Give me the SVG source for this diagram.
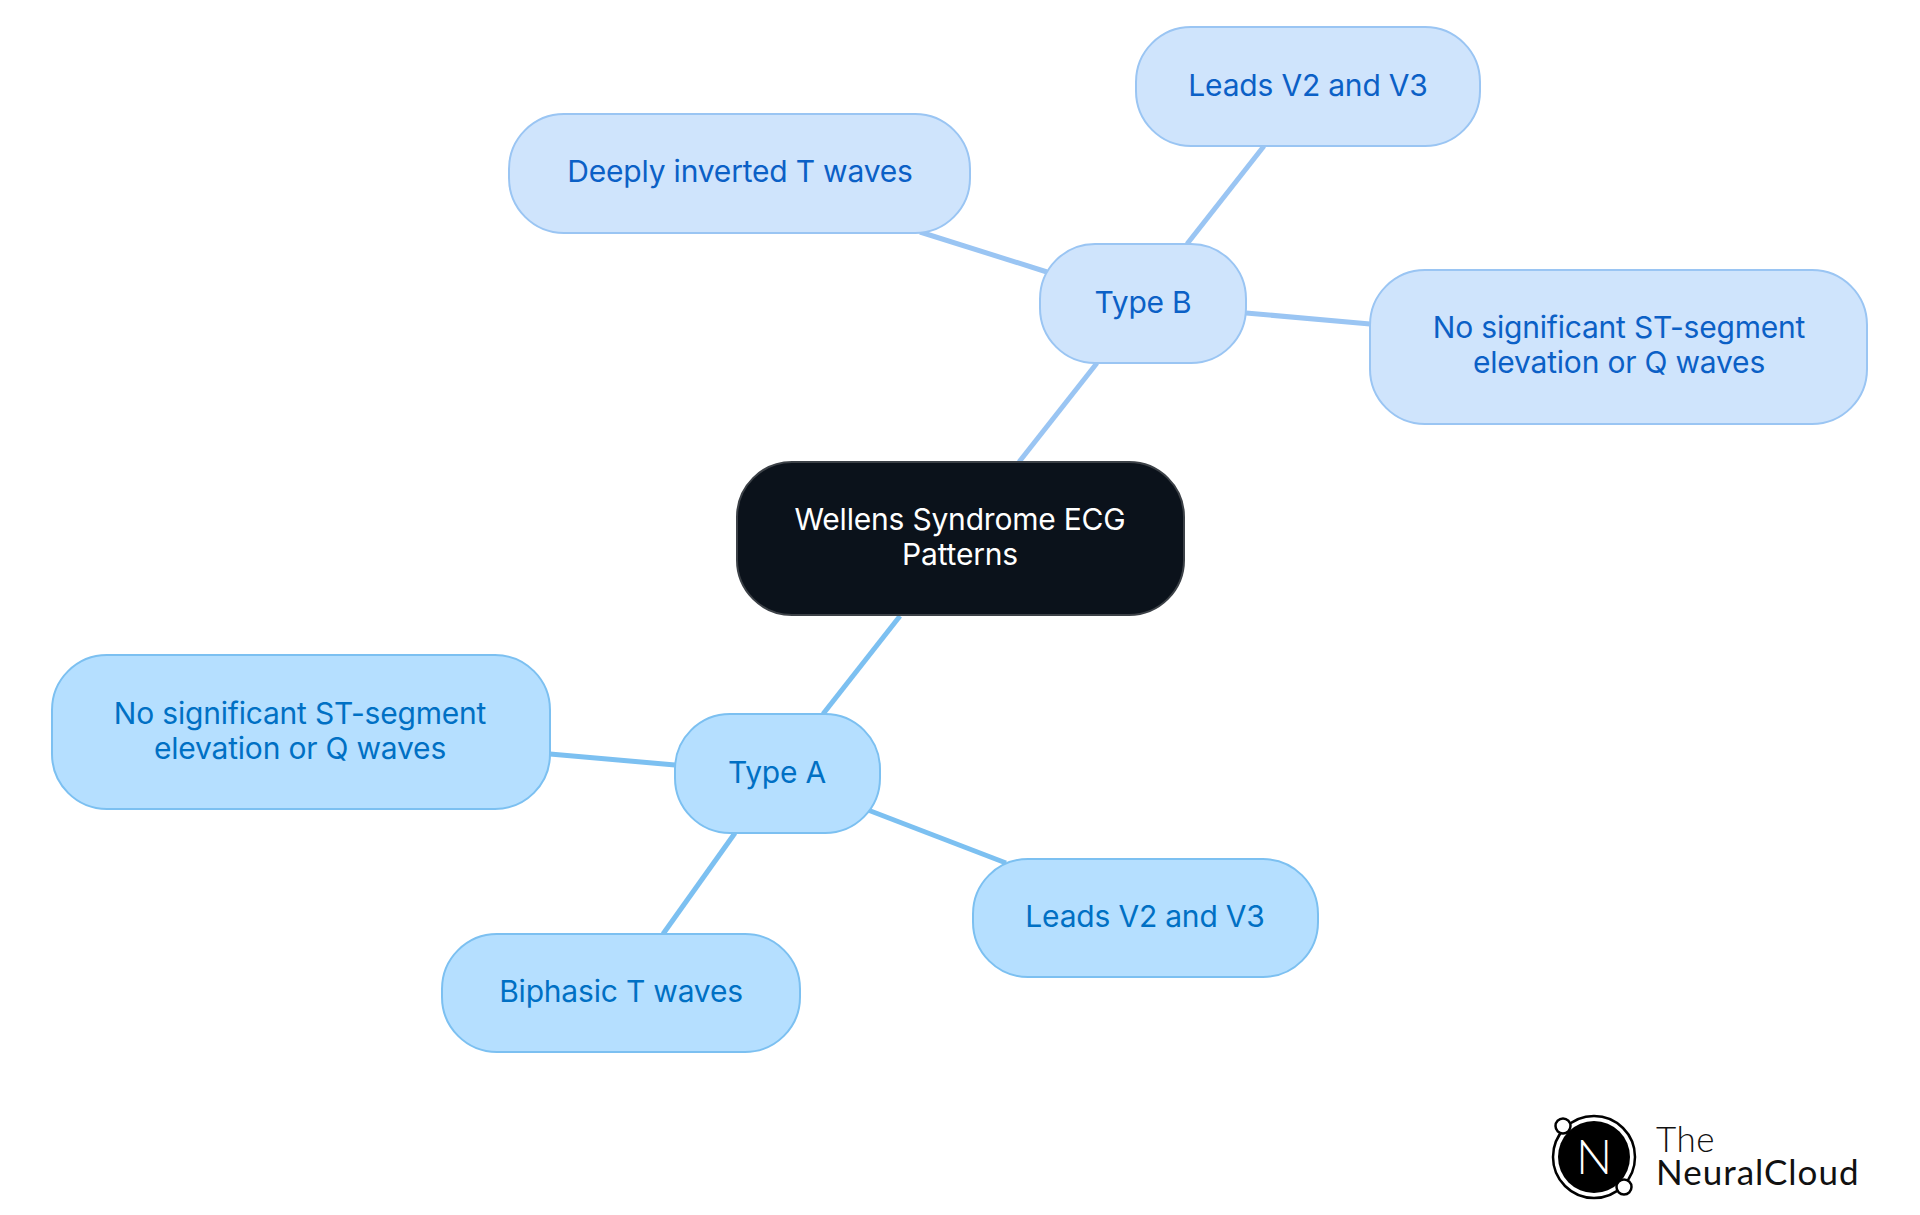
<svg xmlns="http://www.w3.org/2000/svg" width="1920" height="1215" viewBox="0 0 1920 1215">
<style>
text{font-family:"Inter","Noto Sans","Liberation Sans",sans-serif;font-size:30px;text-anchor:middle;letter-spacing:-0.2px}
.b rect{fill:#cfe4fc;stroke:#9ac5f3;stroke-width:2}
.b text{fill:#0b60c6}
.a rect{fill:#b5dfff;stroke:#7cc0f1;stroke-width:2}
.a text{fill:#0070c4}
.eb{stroke:#9ac5f3;stroke-width:5;fill:none}
.ea{stroke:#7cc0f1;stroke-width:5;fill:none}
</style>
<rect width="1920" height="1215" fill="#ffffff"/>
<g id="connectors">
<line class="eb" x1="1019" y1="462" x2="1097" y2="363"/>
<line class="eb" x1="1187" y1="244" x2="1264" y2="146"/>
<line class="eb" x1="1047" y1="272" x2="920" y2="232"/>
<line class="eb" x1="1246" y1="313" x2="1370" y2="324"/>
<line class="ea" x1="900" y1="616" x2="823" y2="714"/>
<line class="ea" x1="675" y1="765" x2="550" y2="754"/>
<line class="ea" x1="735" y1="833" x2="663" y2="934"/>
<line class="ea" x1="868" y1="810" x2="1006" y2="863"/>
</g>
<g id="center"><rect x="737" y="462" width="447" height="153" rx="55" fill="#0b121b" stroke="#3c4147" stroke-width="2"/>
<text x="960" y="530" fill="#ffffff">Wellens Syndrome ECG</text><text x="960" y="565" fill="#ffffff">Patterns</text></g>
<g id="type-b" class="b"><rect x="1040" y="244" width="206" height="119" rx="55"/><text x="1143" y="313">Type B</text></g>
<g id="b-leads" class="b"><rect x="1136" y="27" width="344" height="119" rx="55"/><text x="1308" y="96">Leads V2 and V3</text></g>
<g id="b-deep" class="b"><rect x="509" y="114" width="461" height="119" rx="55"/><text x="740" y="182">Deeply inverted T waves</text></g>
<g id="b-nosig" class="b"><rect x="1370" y="270" width="497" height="154" rx="55"/><text x="1619" y="338">No significant ST-segment</text><text x="1619" y="373">elevation or Q waves</text></g>
<g id="type-a" class="a"><rect x="675" y="714" width="205" height="119" rx="55"/><text x="777" y="783">Type A</text></g>
<g id="a-nosig" class="a"><rect x="52" y="655" width="498" height="154" rx="55"/><text x="300" y="724">No significant ST-segment</text><text x="300" y="759">elevation or Q waves</text></g>
<g id="a-biphasic" class="a"><rect x="442" y="934" width="358" height="118" rx="55"/><text x="621" y="1002">Biphasic T waves</text></g>
<g id="a-leads" class="a"><rect x="973" y="859" width="345" height="118" rx="55"/><text x="1145" y="927">Leads V2 and V3</text></g>
<g id="logo">
<circle cx="1594" cy="1157" r="41" fill="#fff" stroke="#000" stroke-width="2.5"/>
<circle cx="1594" cy="1157" r="36" fill="#000"/>
<circle cx="1563" cy="1126" r="7.5" fill="#fff" stroke="#000" stroke-width="2.5"/>
<circle cx="1624" cy="1187" r="7.5" fill="#fff" stroke="#000" stroke-width="2.5"/>
<text x="1594" y="1174" fill="#fff" style="font-family:'Lato','Liberation Sans',sans-serif;font-size:48px;font-weight:300;letter-spacing:0">N</text>
<text x="1656" y="1152" fill="#111" style="font-family:'Lato','Liberation Sans',sans-serif;font-size:35px;font-weight:300;text-anchor:start;letter-spacing:0.5px">The</text>
<text x="1656" y="1185" fill="#111" style="font-family:'Lato','Liberation Sans',sans-serif;font-size:35px;font-weight:400;text-anchor:start;letter-spacing:1px">NeuralCloud</text>
</g>
</svg>
